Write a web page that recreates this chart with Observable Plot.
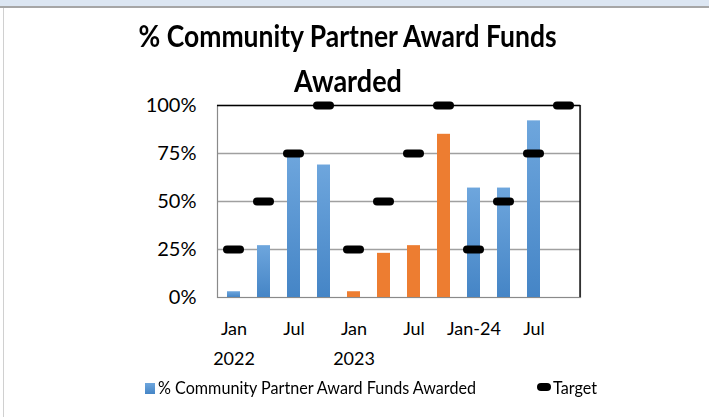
<!DOCTYPE html>
<html>
<head>
<meta charset="utf-8">
<script src="https://cdn.jsdelivr.net/npm/d3@7"></script>
<script src="https://cdn.jsdelivr.net/npm/@observablehq/plot@0.6"></script>
<style>
  html, body { margin: 0; padding: 0; background: #fff; }
  body { width: 709px; height: 417px; position: relative; overflow: hidden;
         font-family: Lato, "Open Sans", sans-serif; }
  #topbar { position: absolute; left: 0; top: 0; width: 709px; height: 6px;
            background: #dce6f2; border-bottom: 2px solid #a6a6a6; }
  #leftline { position: absolute; left: 3px; top: 8px; width: 1px; height: 409px; background: #d0d0d0; }
  #title { position: absolute; left: 0; top: 13px; width: 696px; text-align: center;
           font-weight: bold; font-size: 31px; line-height: 45px; color: #000; }
  #title span { display: inline-block; white-space: nowrap; transform-origin: center; }
  #chart { position: absolute; left: 0; top: 90px; }
  #legend { position: absolute; left: 0; top: 378px; width: 709px; height: 24px; font-size: 17px; line-height: 20px; color: #000; }
  .sw { position: absolute; }
  .lt { position: absolute; top: 0; white-space: nowrap; transform-origin: left center; }
</style>
</head>
<body>
<div id="topbar"></div>
<div id="leftline"></div>
<div id="title"><span id="t1">% Community Partner Award Funds</span><br><span id="t2">Awarded</span></div>
<div id="chart"></div>
<div id="legend">
  <div class="sw" style="left:145px; top:5px; width:10px; height:11px; background:linear-gradient(#6ea6dd,#4585c6);"></div>
  <div class="lt" id="lt1" style="left:158px;">% Community Partner Award Funds Awarded</div>
  <div class="sw" style="left:537px; top:5px; width:14px; height:8px; background:#000; border-radius:4px;"></div>
  <div class="lt" id="lt2" style="left:553px;">Target</div>
</div>
<script>
// ---- data ----
const periods = ["2022-01","2022-04","2022-07","2022-10","2023-01","2023-04","2023-07","2023-10","2024-01","2024-04","2024-07","2024-10"];
const funds   = [0.03, 0.27, 0.75, 0.69, 0.03, 0.23, 0.27, 0.85, 0.57, 0.57, 0.92, null];
const targets = [0.25, 0.50, 0.75, 1.00, 0.25, 0.50, 0.75, 1.00, 0.25, 0.50, 0.75, 1.00];
const barGroup = ["blue","blue","blue","blue","orange","orange","orange","orange","blue","blue","blue","blue"];
const monthLabels = ["Jan","","Jul","","Jan","","Jul","","Jan-24","","Jul",""];
const yearLabels  = ["2022","","","","2023","","","","","","",""];
const yTicks = [0, 0.25, 0.5, 0.75, 1];

const rows = periods.map((p, i) => ({
  period: p, value: funds[i], target: targets[i], group: barGroup[i],
  month: monthLabels[i], year: yearLabels[i]
}));
const barRows = rows.filter(d => d.value != null);

const chart = Plot.plot({
  width: 709,
  height: 280,
  marginLeft: 217,
  marginRight: 129,
  marginTop: 15,
  marginBottom: 73,
  style: { fontFamily: 'Lato, "Open Sans", sans-serif', background: "transparent", overflow: "visible" },
  x: { type: "band", domain: periods, paddingInner: 0.57, paddingOuter: 0.285, axis: null },
  y: { domain: [0, 1], axis: null },
  marks: [
    Plot.ruleY([0.25, 0.5, 0.75], { stroke: "#a0a0a0", strokeWidth: 1.3 }),
    Plot.frame({ stroke: "#8a8a8a", strokeWidth: 1.2 }),
    Plot.ruleY([1], { stroke: "#000", strokeWidth: 1.3 }),
    Plot.barY(barRows, {
      x: "period", y: "value",
      fill: d => d.group === "blue" ? "url(#blueGrad)" : "#ed7d31"
    }),
    Plot.tickY(rows, {
      x: "period", y: "target", stroke: "#000", strokeWidth: 8,
      strokeLinecap: "round", inset: 0
    }),
    Plot.axisY({ ticks: yTicks, tickFormat: d3.format(".0%"), tickSize: 0, tickPadding: 21,
                 fontSize: 20, anchor: "left", label: null }),
    Plot.text(rows, { x: "period", y: () => 0, text: "month", dy: 32, fontSize: 18,
                      lineAnchor: "middle", fill: "#000", filter: d => d.month !== "" }),
    Plot.text(rows, { x: "period", y: () => 0, text: "year", dy: 62, fontSize: 18,
                      lineAnchor: "middle", fill: "#000", filter: d => d.year !== "" })
  ]
});

const svg = d3.select(chart);
const defs = svg.insert("defs", ":first-child");
const g = defs.append("linearGradient").attr("id", "blueGrad").attr("x1", 0).attr("y1", 0).attr("x2", 0).attr("y2", 1);
g.append("stop").attr("offset", "0%").attr("stop-color", "#6ea6dd");
g.append("stop").attr("offset", "100%").attr("stop-color", "#4585c6");
const f = defs.append("filter").attr("id", "soft").attr("filterUnits", "userSpaceOnUse")
  .attr("x", 0).attr("y", 0).attr("width", 709).attr("height", 280);
f.append("feGaussianBlur").attr("stdDeviation", 0.7);
svg.selectAll("[aria-label='tick']").attr("filter", "url(#soft)");

document.getElementById("chart").appendChild(chart);

// darker right edge of plot area
const fr = chart.querySelector("[aria-label='frame']");
if (fr) {
  const rect = fr.tagName === "rect" ? fr : fr.querySelector("rect");
  if (rect) {
    const x = +rect.getAttribute("x") + +rect.getAttribute("width");
    const y1 = +rect.getAttribute("y"), y2 = y1 + +rect.getAttribute("height");
    svg.append("line").attr("x1", x).attr("x2", x).attr("y1", y1).attr("y2", y2)
      .attr("stroke", "#000").attr("stroke-width", 1.3);
  }
}

// fit text to the reference's condensed widths
function fit(id, w) {
  const el = document.getElementById(id);
  const cw = el.getBoundingClientRect().width;
  if (cw > 0) el.style.transform = `scaleX(${w / cw})`;
}
fit("t1", 418);
fit("t2", 108);
fit("lt1", 318);
fit("lt2", 44);
</script>
</body>
</html>
